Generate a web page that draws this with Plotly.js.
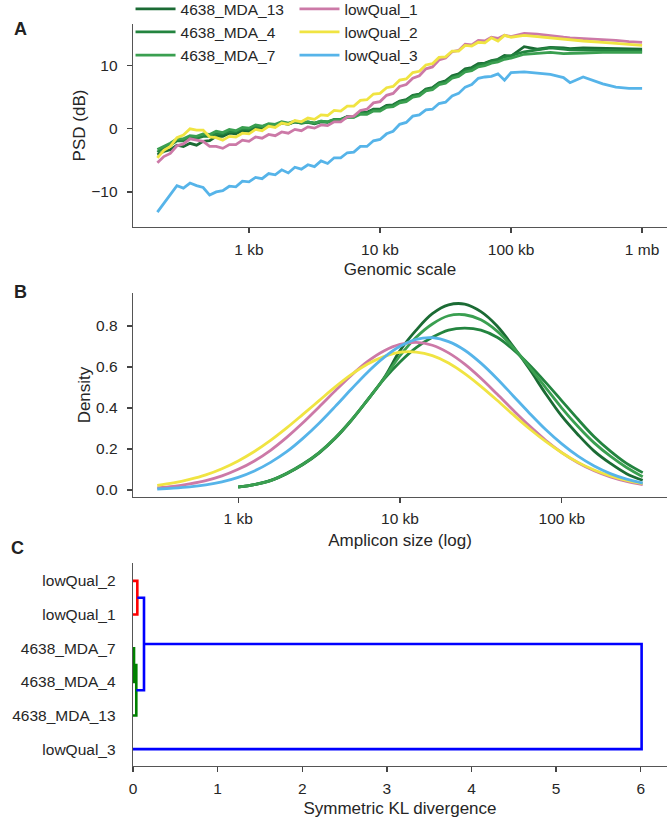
<!DOCTYPE html>
<html>
<head>
<meta charset="utf-8">
<script src="https://cdn.plot.ly/plotly-3.0.1.min.js"></script>
<style>
  html, body { margin: 0; padding: 0; background: #fff; }
  #plot { width: 667px; height: 818px; }
</style>
</head>
<body>
<div id="plot"></div>
<script>
// Sample names and colours
let sampleNames = ["4638_MDA_13", "4638_MDA_4", "4638_MDA_7", "lowQual_1", "lowQual_2", "lowQual_3"];
let sampleColors = ["#1b6b34", "#23843f", "#3a9f50", "#cc79a7", "#f0e442", "#56b4e9"];

// A: PSD vs genomic scale (bp)
let psdScale = [200, 224, 251, 282, 316, 355, 398, 447, 501, 562, 631, 708, 794, 891,
  1000, 1122, 1259, 1413, 1585, 1778, 1995, 2239, 2512, 2818, 3162, 3548, 3981, 4467, 5012, 5623,
  6310, 7079, 7943, 8913, 10000, 11220, 12589, 14125, 15849, 17783, 19953, 22387, 25119, 28184,
  31623, 35481, 39811, 44668, 50119, 56234, 63096, 70795, 79433, 89125, 100000,
  125893, 158489, 199526, 251189, 281838, 354813, 501187, 630957, 794328, 1000000];

let psdMDA13 = [-4.1, -3.6, -3.3, -2.6, -2.8, -2.3, -2.6, -2.0, -1.9, -1.2, -1.2, -0.7, -0.8, -0.3,
  -0.4, 0.1, 0.0, 0.5, 0.4, 0.9, 0.7, 1.1, 0.9, 1.0, 0.8, 1.1, 1.0, 1.4, 1.4, 1.9,
  1.9, 2.6, 2.6, 3.1, 3.1, 3.7, 3.8, 4.4, 4.6, 5.3, 5.5, 6.3, 6.5, 7.3,
  7.6, 8.4, 8.7, 9.5, 9.7, 10.3, 10.4, 10.8, 11.0, 11.6, 11.5,
  13.0, 12.6, 12.9, 12.8, 12.7, 12.8, 12.7, 12.7, 12.6, 12.6];

let psdMDA4 = [-3.7, -3.0, -2.6, -1.9, -1.9, -1.4, -1.5, -1.2, -1.2, -0.8, -0.8, -0.4, -0.5, 0.0,
  -0.1, 0.4, 0.3, 0.7, 0.6, 1.0, 0.8, 1.1, 0.9, 1.1, 0.9, 1.2, 1.1, 1.5, 1.5, 1.9,
  1.9, 2.5, 2.5, 3.0, 3.0, 3.6, 3.7, 4.3, 4.5, 5.2, 5.4, 6.2, 6.4, 7.2,
  7.4, 8.2, 8.5, 9.3, 9.5, 10.1, 10.3, 10.7, 10.9, 11.4, 11.6,
  12.2, 12.5, 12.8, 12.6, 12.5, 12.5, 12.4, 12.4, 12.3, 12.3];

let psdMDA7 = [-3.3, -2.8, -2.3, -1.6, -1.6, -1.1, -1.2, -0.8, -0.9, -0.4, -0.6, -0.1, -0.3, 0.2,
  0.1, 0.6, 0.4, 0.8, 0.7, 1.1, 0.9, 1.2, 1.0, 1.1, 0.9, 1.2, 1.1, 1.4, 1.4, 1.8,
  1.8, 2.3, 2.3, 2.8, 2.8, 3.4, 3.5, 4.1, 4.3, 5.0, 5.2, 6.0, 6.2, 7.0,
  7.2, 8.0, 8.3, 9.0, 9.2, 9.8, 10.0, 10.4, 10.6, 11.0, 11.2,
  11.8, 12.0, 12.1, 11.9, 11.9, 12.0, 12.1, 12.1, 12.1, 12.1];

let psdLow1 = [-5.4, -4.4, -3.9, -2.7, -2.4, -1.6, -1.8, -2.0, -2.8, -2.8, -3.1, -2.5, -2.5, -1.8,
  -2.0, -1.3, -1.5, -0.9, -1.1, -0.5, -0.7, -0.1, -0.3, 0.3, 0.1, 0.6, 0.5, 1.1, 1.1, 1.9,
  2.0, 2.9, 3.1, 4.1, 4.3, 5.3, 5.6, 6.7, 7.0, 8.0, 8.4, 9.5, 9.8, 10.9,
  11.2, 12.2, 12.4, 13.4, 13.3, 14.0, 13.9, 14.5, 14.3, 14.8, 14.6,
  15.1, 15.0, 14.7, 14.5, 14.4, 14.3, 14.1, 14.0, 13.8, 13.7];

let psdLow2 = [-4.6, -3.4, -2.8, -1.4, -1.0, 0.0, -0.2, -0.2, -1.3, -1.4, -1.8, -1.2, -1.3, -0.7,
  -0.8, -0.1, -0.3, 0.4, 0.2, 0.9, 0.7, 1.3, 1.1, 1.7, 1.5, 2.2, 2.1, 2.9, 2.8, 3.6,
  3.6, 4.5, 4.6, 5.5, 5.6, 6.5, 6.7, 7.7, 7.9, 8.9, 9.1, 10.1, 10.3, 11.3,
  11.4, 12.3, 12.3, 13.2, 13.1, 13.7, 13.6, 14.4, 13.9, 14.8, 14.5,
  14.8, 14.6, 14.4, 14.2, 14.0, 13.9, 13.7, 13.5, 13.3, 13.2];

let psdLow3 = [-13.2, -11.8, -10.5, -9.0, -9.4, -8.6, -9.0, -9.3, -10.5, -10.0, -9.8, -9.1, -9.2, -8.3,
  -8.4, -7.7, -7.9, -7.1, -7.3, -6.5, -7.0, -6.1, -6.4, -5.7, -6.0, -5.1, -5.5, -4.6, -4.6, -3.8,
  -3.7, -2.8, -2.8, -1.9, -1.7, -0.8, -0.4, 0.7, 1.0, 2.0, 2.2, 3.0, 3.1, 4.0,
  4.2, 5.2, 5.6, 6.6, 7.0, 8.0, 8.2, 8.3, 8.7, 7.7, 8.9,
  9.0, 8.8, 8.6, 8.1, 7.3, 8.2, 7.1, 6.6, 6.4, 6.4];

// B: density of amplicon size (bp)
let ampSize = [316, 398, 501, 631, 794, 1000, 1259, 1585, 1995, 2512, 3162, 3981, 5012, 6310, 7943,
  10000, 12589, 15849, 19953, 25119, 31623, 39811, 50119, 63096, 79433, 100000,
  125893, 158489, 199526, 251189, 316228];
let ampSizeMDA = [1000, 1259, 1585, 1995, 2512, 3162, 3981, 5012, 6310, 7943,
  10000, 12589, 15849, 19953, 25119, 31623, 39811, 50119, 63096, 79433, 100000,
  125893, 158489, 199526, 251189, 316228];

let densMDA13 = [0.014, 0.026, 0.046, 0.080, 0.124, 0.180, 0.252, 0.340, 0.440, 0.545,
  0.680, 0.780, 0.860, 0.903, 0.907, 0.870, 0.800, 0.700, 0.590, 0.470, 0.360,
  0.270, 0.190, 0.130, 0.080, 0.048];
let densMDA4 = [0.015, 0.027, 0.047, 0.082, 0.127, 0.183, 0.255, 0.342, 0.440, 0.540,
  0.625, 0.695, 0.745, 0.780, 0.790, 0.780, 0.745, 0.685, 0.610, 0.525, 0.435,
  0.345, 0.260, 0.190, 0.130, 0.085];
let densMDA7 = [0.014, 0.026, 0.046, 0.081, 0.125, 0.182, 0.254, 0.341, 0.440, 0.543,
  0.655, 0.745, 0.810, 0.850, 0.855, 0.830, 0.775, 0.695, 0.600, 0.500, 0.400,
  0.310, 0.230, 0.165, 0.110, 0.065];
let densLow1 = [0.011, 0.018, 0.030, 0.046, 0.069, 0.101, 0.142, 0.194, 0.257, 0.328, 0.405,
  0.484, 0.560, 0.627, 0.678, 0.710, 0.720, 0.706, 0.669, 0.614, 0.545, 0.468,
  0.389, 0.313, 0.243, 0.183, 0.133, 0.094, 0.064, 0.042, 0.027];
let densLow2 = [0.023, 0.035, 0.052, 0.074, 0.104, 0.142, 0.188, 0.242, 0.303, 0.369, 0.436,
  0.503, 0.564, 0.615, 0.651, 0.672, 0.673, 0.656, 0.620, 0.568, 0.506, 0.438,
  0.367, 0.299, 0.237, 0.182, 0.135, 0.098, 0.069, 0.047, 0.031];
let densLow3 = [0.005, 0.009, 0.015, 0.025, 0.040, 0.062, 0.093, 0.135, 0.187, 0.252, 0.326,
  0.408, 0.493, 0.575, 0.646, 0.701, 0.735, 0.743, 0.724, 0.682, 0.619, 0.543,
  0.459, 0.375, 0.295, 0.225, 0.165, 0.117, 0.080, 0.053, 0.034];

// C: dendrogram (leaves bottom to top, scipy-style link coordinates)
let leafLabels = ["lowQual_3", "4638_MDA_13", "4638_MDA_4", "4638_MDA_7", "lowQual_1", "lowQual_2"];
let leafPos = [5, 15, 25, 35, 45, 55];
let linkLeafCoord = [[25, 25, 35, 35], [15, 15, 30, 30], [45, 45, 55, 55], [22.5, 22.5, 50, 50], [5, 5, 36.25, 36.25]];
let linkDist = [[0, 0.012, 0.012, 0], [0, 0.039, 0.039, 0.012], [0, 0.051, 0.051, 0], [0.039, 0.13, 0.13, 0.051], [0, 6.01, 6.01, 0.13]];
let linkColors = ["#008000", "#008000", "#ff0000", "#0000ff", "#0000ff"];

let fontFam = "Liberation Sans, Arial, sans-serif";
let txtColor = "#262626";

let psdSeries = [psdMDA13, psdMDA4, psdMDA7, psdLow1, psdLow2, psdLow3];
let densSeries = [densMDA13, densMDA4, densMDA7, densLow1, densLow2, densLow3];

let data = [];

// Panel A traces
for (let i in psdSeries) {
  data.push({
    x: psdScale,
    y: psdSeries[i],
    name: sampleNames[i],
    type: "scatter",
    mode: "lines",
    line: {color: sampleColors[i], width: 2.8},
    xaxis: "x",
    yaxis: "y",
    legend: i < 3 ? "legend" : "legend2"
  });
}

// Panel B traces
for (let i in densSeries) {
  data.push({
    x: i < 3 ? ampSizeMDA : ampSize,
    y: densSeries[i],
    name: sampleNames[i],
    type: "scatter",
    mode: "lines",
    line: {color: sampleColors[i], width: 2.8, shape: "spline"},
    xaxis: "x2",
    yaxis: "y2",
    showlegend: false
  });
}

// Panel C dendrogram links
for (let i in linkDist) {
  data.push({
    x: linkDist[i],
    y: linkLeafCoord[i],
    type: "scatter",
    mode: "lines",
    line: {color: linkColors[i], width: 2.6},
    xaxis: "x3",
    yaxis: "y3",
    showlegend: false
  });
}

let baseAxis = {
  showline: true,
  linecolor: "#555555",
  linewidth: 1.3,
  ticks: "outside",
  ticklen: 5,
  tickwidth: 1.3,
  tickcolor: "#444444",
  showgrid: false,
  zeroline: false,
  automargin: false,
  tickfont: {family: fontFam, size: 15.5, color: txtColor}
};

function axis(extra) {
  return Object.assign({}, baseAxis, extra);
}

let xTitleFont = {size: 17};

let layout = {
  width: 667,
  height: 818,
  margin: {l: 0, r: 0, t: 0, b: 0, autoexpand: false},
  paper_bgcolor: "#ffffff",
  plot_bgcolor: "#ffffff",
  font: {family: fontFam, size: 15.5, color: txtColor},
  xaxis: axis({
    type: "log", range: [2.115, 6.19], domain: [0.1994, 1], anchor: "y",
    tickvals: [1000, 10000, 100000, 1000000], ticktext: ["1 kb", "10 kb", "100 kb", "1 mb"],
    ticklabelstandoff: 3,
    title: {text: "Genomic scale", font: xTitleFont, standoff: 6}
  }),
  yaxis: axis({
    range: [-15.56, 16.6], domain: [0.7225, 0.9707], anchor: "x",
    tickvals: [-10, 0, 10], ticklabelstandoff: 6,
    title: {text: "PSD (dB)", font: xTitleFont, standoff: 1}
  }),
  xaxis2: axis({
    type: "log", range: [2.35, 5.65], domain: [0.1994, 1], anchor: "y2",
    tickvals: [1000, 10000, 100000], ticktext: ["1 kb", "10 kb", "100 kb"],
    ticklabelstandoff: 2,
    title: {text: "Amplicon size (log)", font: xTitleFont, standoff: 8}
  }),
  yaxis2: axis({
    range: [-0.034, 0.961], domain: [0.3924, 0.6418], anchor: "x2",
    tickvals: [0, 0.2, 0.4, 0.6, 0.8], tickformat: ".1f", ticklabelstandoff: 6,
    title: {text: "Density", font: xTitleFont, standoff: 1}
  }),
  xaxis3: axis({
    range: [0, 6.31], domain: [0.1994, 1], anchor: "y3",
    tickvals: [0, 1, 2, 3, 4, 5, 6], ticklabelstandoff: 3,
    title: {text: "Symmetric KL divergence", font: xTitleFont, standoff: 8}
  }),
  yaxis3: axis({
    range: [0, 60.3], domain: [0.0636, 0.3117], anchor: "x3",
    tickvals: leafPos, ticktext: leafLabels, ticks: "", ticklabelstandoff: 13
  }),
  legend: {
    x: 0.1957, y: 1.0095, xanchor: "left", yanchor: "top", itemwidth: 40,
    bgcolor: "rgba(0,0,0,0)", tracegroupgap: 0,
    font: {family: fontFam, size: 15.5, color: txtColor}
  },
  legend2: {
    x: 0.4415, y: 1.0095, xanchor: "left", yanchor: "top", itemwidth: 40,
    bgcolor: "rgba(0,0,0,0)", tracegroupgap: 0,
    font: {family: fontFam, size: 15.5, color: txtColor}
  },
  annotations: [
    {text: "<b>A</b>", x: 0.018, y: 0.979, xref: "paper", yref: "paper", showarrow: false, font: {size: 18, color: "#222"}},
    {text: "<b>B</b>", x: 0.018, y: 0.643, xref: "paper", yref: "paper", showarrow: false, font: {size: 18, color: "#222"}},
    {text: "<b>C</b>", x: 0.013, y: 0.3154, xref: "paper", yref: "paper", showarrow: false, font: {size: 18, color: "#222"}}
  ]
};

Plotly.newPlot("plot", data, layout, {displayModeBar: false, staticPlot: true});
</script>
</body>
</html>
